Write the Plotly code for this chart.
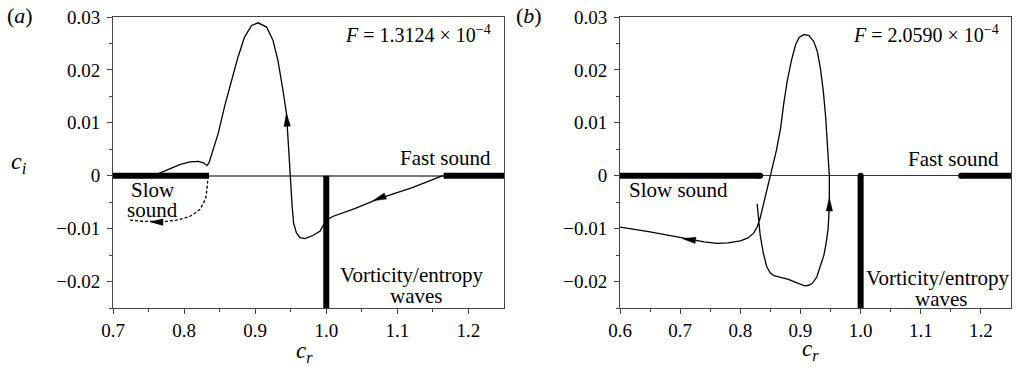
import numpy as np
import plotly.graph_objects as go

FONT = "Liberation Serif, Times New Roman, Tinos, DejaVu Serif, serif"

# ---------------- data: panel (a) ----------------
a_main_cr = [1.164, 1.12, 1.075, 1.040, 1.009, 1.000, 0.991, 0.981, 0.970, 0.963, 0.958, 0.954,
             0.952, 0.950, 0.948, 0.946, 0.944, 0.939, 0.932, 0.925, 0.916, 0.904, 0.895, 0.885,
             0.876, 0.867, 0.857, 0.848, 0.841, 0.835, 0.832, 0.828, 0.820, 0.808, 0.794, 0.780,
             0.768, 0.764]
a_main_ci = [0.0, -0.0023, -0.0043, -0.0062, -0.0077, -0.0084, -0.0105, -0.0113, -0.0119, -0.0117,
             -0.0108, -0.0089, -0.0058, -0.0008, 0.0030, 0.0068, 0.0118, 0.0162, 0.0218, 0.0256,
             0.0281, 0.0289, 0.0284, 0.0262, 0.0225, 0.0181, 0.0131, 0.0080, 0.0049, 0.0024,
             0.0019, 0.0024, 0.0027, 0.0026, 0.0021, 0.0013, 0.0006, 0.0004]
a_dash_cr = [0.834, 0.833, 0.831, 0.827, 0.822, 0.815, 0.808, 0.798, 0.789, 0.771, 0.755, 0.740, 0.724]
a_dash_ci = [0.0, -0.0020, -0.0039, -0.0053, -0.0064, -0.0071, -0.0077, -0.0081, -0.0084,
             -0.0087, -0.0087, -0.0086, -0.0084]
a_slow = [0.70, 0.835]
a_fast = [1.165, 1.25]
# arrows: (tip, point behind the tip that gives the direction)
a_arrows = [((1.066, -0.0047), (1.09, -0.0035)),
            ((0.944, 0.0118), (0.946, 0.0068)),
            ((0.752, -0.0087), (0.775, -0.0088))]

# ---------------- data: panel (b) ----------------
b_cr = [0.828, 0.830, 0.833, 0.838, 0.844, 0.850, 0.856, 0.864, 0.872, 0.880, 0.889, 0.898,
        0.907, 0.914, 0.920, 0.927, 0.933, 0.939, 0.943, 0.946, 0.947, 0.948, 0.948, 0.946,
        0.942, 0.938, 0.933, 0.928, 0.922, 0.914, 0.906, 0.898, 0.892, 0.885, 0.878, 0.872,
        0.867, 0.860, 0.853, 0.847, 0.842, 0.837, 0.833, 0.828, 0.822, 0.812, 0.800, 0.780,
        0.761, 0.740, 0.722, 0.700, 0.650, 0.600]
b_ci = [-0.0053, -0.0080, -0.0112, -0.0145, -0.0172, -0.0184, -0.0189, -0.0191, -0.0193, -0.0196,
        -0.0200, -0.0204, -0.0208, -0.0207, -0.0203, -0.0192, -0.0172, -0.0150, -0.0125, -0.0100,
        -0.0080, -0.0050, 0.0, 0.0045, 0.0109, 0.0160, 0.0204, 0.0235, 0.0254, 0.0265, 0.0267,
        0.0262, 0.0248, 0.0218, 0.0179, 0.0135, 0.0090, 0.0048, 0.0015, -0.0010, -0.0036,
        -0.0060, -0.0080, -0.0097, -0.0109, -0.0118, -0.0123, -0.0127, -0.0128, -0.0125,
        -0.0121, -0.0116, -0.0106, -0.0097]
b_slow = [0.60, 0.833]
b_fast = [1.167, 1.25]
b_arrows = [((0.948, -0.0042), (0.948, -0.0085)),
            ((0.704, -0.0119), (0.725, -0.0122))]

vort_cr = 1.0
vort_ci = [0.0, -0.025]

# tick labels
x_ticks_a = [0.7, 0.8, 0.9, 1.0, 1.1, 1.2]
x_ticks_b = [0.6, 0.7, 0.8, 0.9, 1.0, 1.1, 1.2]
y_ticks = [-0.02, -0.01, 0.0, 0.01, 0.02, 0.03]
y_ticktext = ["\u22120.02", "\u22120.01", "0", "0.01", "0.02", "0.03"]

F_a = "<i>F</i> = 1.3124 × 10<sup>−4</sup>"
F_b = "<i>F</i> = 2.0590 × 10<sup>−4</sup>"

W, H = 1016, 371
XA_DOM = [113 / W, 504 / W]
XB_DOM = [620 / W, 1011 / W]
Y_DOM = [1 - 308 / H, 1 - 17 / H]
XA_RNG = [0.7, 1.25]
XB_RNG = [0.6, 1.25]
Y_RNG = [-0.025, 0.03]

fig = go.Figure()

thick = dict(color="black", width=6)
thin = dict(color="black", width=1.3)

# panel a
fig.add_trace(go.Scatter(x=a_slow, y=[0, 0], mode="lines", line=thick, xaxis="x", yaxis="y"))
fig.add_trace(go.Scatter(x=a_fast, y=[0, 0], mode="lines", line=thick, xaxis="x", yaxis="y"))
fig.add_trace(go.Scatter(x=[vort_cr, vort_cr], y=vort_ci, mode="lines", line=thick, xaxis="x", yaxis="y"))
fig.add_trace(go.Scatter(x=a_main_cr, y=a_main_ci, mode="lines", line=thin, xaxis="x", yaxis="y"))
fig.add_trace(go.Scatter(x=a_dash_cr, y=a_dash_ci, mode="lines",
                         line=dict(color="black", width=1.3, dash="3px,2px"), xaxis="x", yaxis="y"))

# panel b
fig.add_trace(go.Scatter(x=b_slow, y=[0, 0], mode="lines", line=thick, xaxis="x2", yaxis="y2"))
fig.add_trace(go.Scatter(x=b_fast, y=[0, 0], mode="lines", line=thick, xaxis="x2", yaxis="y2"))
fig.add_trace(go.Scatter(x=[b_slow[1], b_fast[0]], y=[0, 0], mode="markers",
                         marker=dict(color="black", size=6), xaxis="x2", yaxis="y2"))
fig.add_trace(go.Scatter(x=[vort_cr, vort_cr], y=vort_ci, mode="lines", line=thick, xaxis="x2", yaxis="y2"))
fig.add_trace(go.Scatter(x=[vort_cr], y=[0], mode="markers",
                         marker=dict(color="black", size=6), xaxis="x2", yaxis="y2"))
fig.add_trace(go.Scatter(x=b_cr, y=b_ci, mode="lines", line=thin, xaxis="x2", yaxis="y2"))


# arrowheads as slim filled triangles, built from tip + direction in pixel space
def arrowhead(tip, tail, xrng, xdom, xa, ya, length=13, half_w=3.2):
    sx = (xdom[1] - xdom[0]) * W / (xrng[1] - xrng[0])
    sy = (Y_DOM[1] - Y_DOM[0]) * H / (Y_RNG[1] - Y_RNG[0])
    dx = (tip[0] - tail[0]) * sx
    dy = (tip[1] - tail[1]) * sy
    n = np.hypot(dx, dy)
    ux, uy = dx / n, dy / n
    bx, by = -ux * length, -uy * length
    px, py = -uy * half_w, ux * half_w
    xs = [0, bx + px, bx - px, 0]
    ys = [0, by + py, by - py, 0]
    fig.add_trace(go.Scatter(x=[tip[0] + v / sx for v in xs], y=[tip[1] + v / sy for v in ys],
                             mode="lines", fill="toself", fillcolor="black",
                             line=dict(color="black", width=0.5), xaxis=xa, yaxis=ya))


for tip, tail in a_arrows:
    arrowhead(tip, tail, XA_RNG, XA_DOM, "x", "y")
for tip, tail in b_arrows:
    arrowhead(tip, tail, XB_RNG, XB_DOM, "x2", "y2")


def txt(s, x, y, xr, yr, size=21, xanchor="center", yanchor="middle"):
    return dict(text=s, x=x, y=y, xref=xr, yref=yr, showarrow=False, xanchor=xanchor,
                yanchor=yanchor, font=dict(family=FONT, size=size, color="black"))


annots = [
    txt(F_a, 1.234, 0.0268, "x", "y", size=20, xanchor="right"),
    txt("Fast sound", 1.234, 0.0034, "x", "y", xanchor="right"),
    txt("Slow", 0.756, -0.0027, "x", "y"),
    txt("sound", 0.756, -0.0064, "x", "y"),
    txt("Vorticity/entropy", 1.121, -0.0188, "x", "y"),
    txt("waves", 1.126, -0.0227, "x", "y"),
    txt(F_b, 1.234, 0.0268, "x2", "y2", size=20, xanchor="right"),
    txt("Fast sound", 1.234, 0.0031, "x2", "y2", xanchor="right"),
    txt("Slow sound", 0.612, -0.0027, "x2", "y2", xanchor="left"),
    txt("Vorticity/entropy", 1.128, -0.0194, "x2", "y2"),
    txt("waves", 1.133, -0.0233, "x2", "y2"),
    txt("(<i>a</i>)", 20 / W, 1 - 15 / H, "paper", "paper", size=22),
    txt("(<i>b</i>)", 529 / W, 1 - 15 / H, "paper", "paper", size=22),
    txt("<i>c<sub>i</sub></i>", 19 / W, 1 - 163 / H, "paper", "paper", size=24),
    txt("<i>c<sub>r</sub></i>", 304 / W, 1 - 352 / H, "paper", "paper", size=23),
    txt("<i>c<sub>r</sub></i>", 810 / W, 1 - 350 / H, "paper", "paper", size=23),
]

tickfont = dict(family=FONT, size=19, color="black")


def xax(domain, rng, ticks, anchor):
    return dict(domain=domain, range=rng, anchor=anchor, tickmode="array", tickvals=ticks,
                ticktext=[f"{t:.1f}" for t in ticks], ticks="outside", ticklen=5,
                tickcolor="#444", tickwidth=1, showline=True, mirror=True, linecolor="#444",
                linewidth=1, showgrid=False, zeroline=False, tickfont=tickfont, automargin=False,
                minor=dict(tickvals=list(np.round(np.arange(rng[0] + 0.05, rng[1], 0.1), 3)),
                           ticks="outside", ticklen=3, tickcolor="#444", showgrid=False))


def yax(domain, anchor, zcolor, zwidth):
    return dict(domain=domain, range=Y_RNG, anchor=anchor, tickmode="array",
                tickvals=y_ticks, ticktext=y_ticktext, ticks="outside", ticklen=5,
                tickcolor="#444", tickwidth=1, showline=True, mirror=True, linecolor="#444",
                linewidth=1, showgrid=False, zeroline=True, zerolinecolor=zcolor,
                zerolinewidth=zwidth, tickfont=tickfont, ticklabelstandoff=3, automargin=False,
                minor=dict(tickvals=list(np.round(np.arange(-0.025, 0.03, 0.01), 4)),
                           ticks="outside", ticklen=3, tickcolor="#444", showgrid=False))


fig.update_layout(
    width=W, height=H, margin=dict(l=0, r=0, t=0, b=0, pad=0, autoexpand=False),
    paper_bgcolor="white", plot_bgcolor="white", showlegend=False,
    font=dict(family=FONT, size=19, color="black"),
    xaxis=xax(XA_DOM, XA_RNG, x_ticks_a, "y"),
    yaxis=yax(Y_DOM, "x", "#777", 1.5),
    xaxis2=xax(XB_DOM, XB_RNG, x_ticks_b, "y2"),
    yaxis2=yax(Y_DOM, "x2", "#333", 1.2),
    annotations=annots,
)

fig.write_html("out.html", config={"displayModeBar": False},
               post_script="document.body.style.margin='0px';")
